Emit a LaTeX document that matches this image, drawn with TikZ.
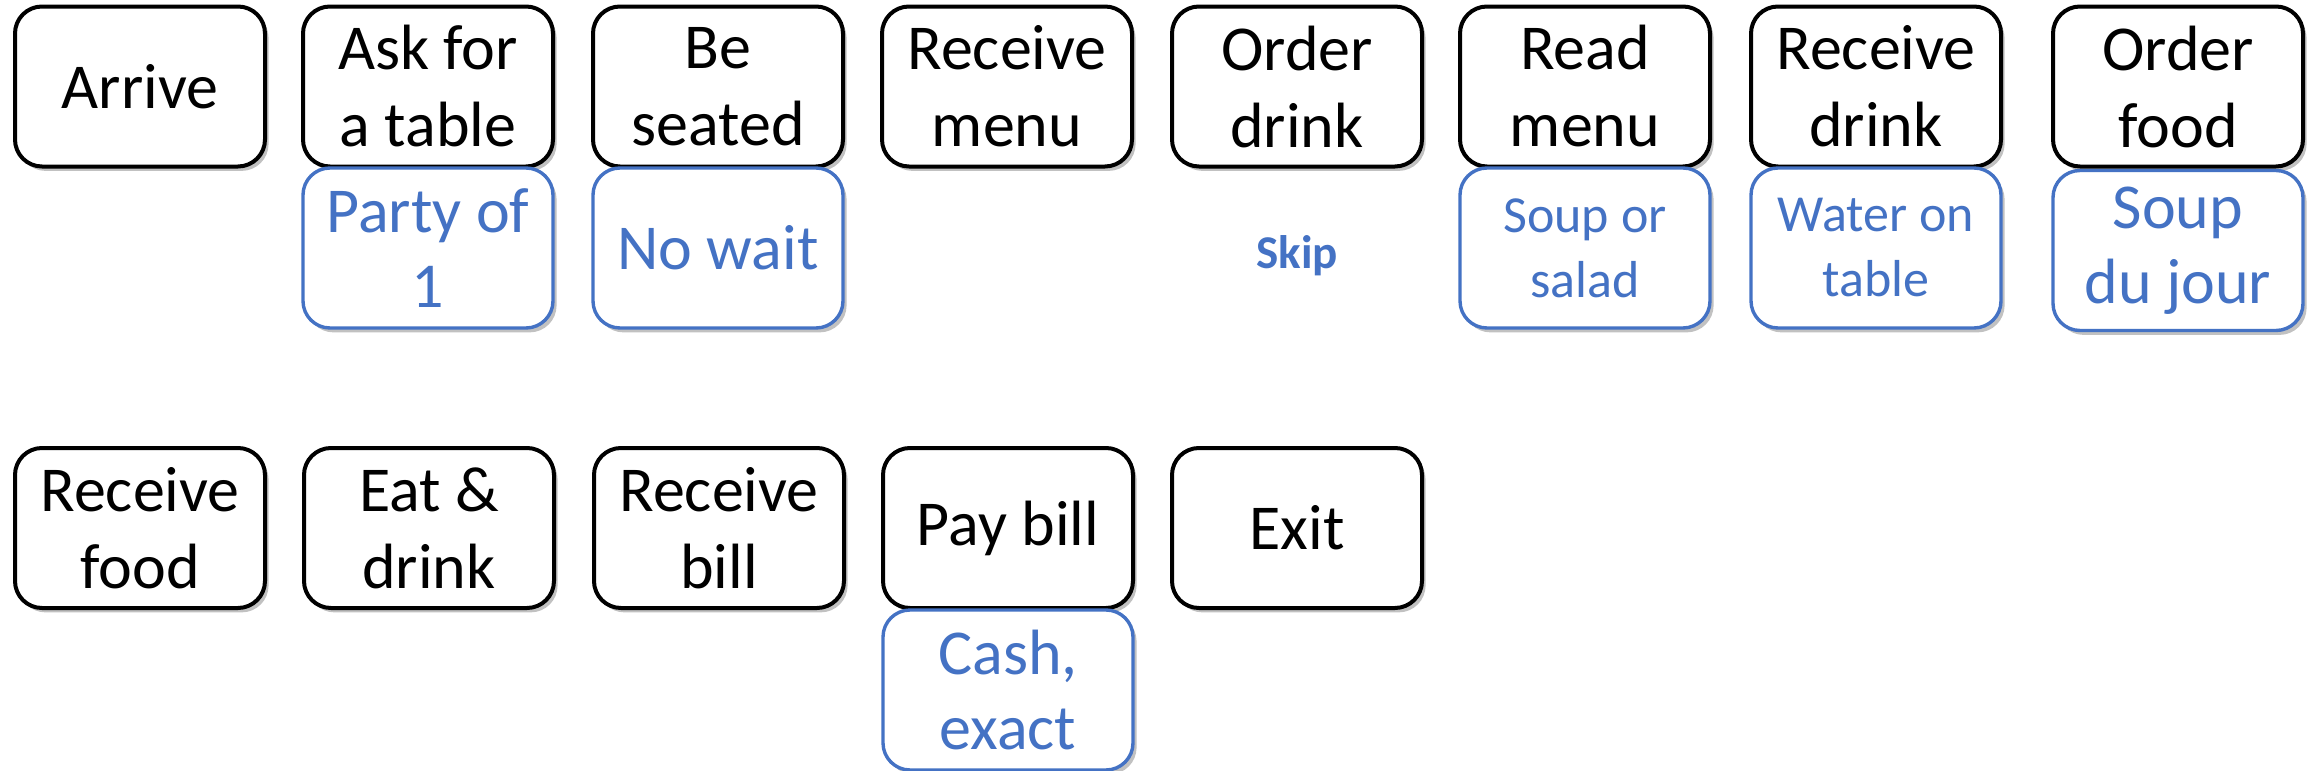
\documentclass[tikz,border=0pt]{standalone}
\usepackage{fontspec}
\setmainfont{Carlito}
\usetikzlibrary{shadows}
\definecolor{accblue}{HTML}{4472C4}
\tikzset{
  base/.style={rounded corners=13.5pt, fill=white, align=center, inner sep=0pt,
    minimum width=125pt,
    drop shadow={shadow xshift=1.8pt, shadow yshift=-2.2pt, opacity=0.35, fill=black!70}},
  blk/.style={base, draw=black, line width=2pt, minimum height=80pt,
    font=\fontsize{32pt}{38.5pt}\selectfont},
  sub/.style={base, draw=accblue, line width=1.7pt, minimum height=80pt, text=accblue,
    font=\fontsize{32pt}{37.5pt}\selectfont},
  subsm/.style={sub, font=\fontsize{26pt}{32.5pt}\selectfont},
}
\begin{document}
\begin{tikzpicture}[x=0.5pt, y=-0.5pt]
\useasboundingbox (0,0) rectangle (2309,771);
% row 1
\node[blk] (arrive) at (140,86.5) {Arrive};
\node[blk] (ask) at (428,86.5) {Ask for\\a table};
\node[blk] (seated) at (718,86.5) {Be\\seated};
\node[blk] (rmenu) at (1007,86.5) {Receive\\menu};
\node[blk] (odrink) at (1297,86.5) {Order\\drink};
\node[blk] (readmenu) at (1585,86.5) {Read\\menu};
\node[blk] (rdrink) at (1876,86.5) {Receive\\drink};
\node[blk] (ofood) at (2178,86.5) {Order\\food};
% row 1 annotations
\node[sub] (party) at (428,248) {Party of\\1};
\node[sub] (nowait) at (718,248) {No wait};
\node[text=accblue, font=\fontsize{23.5pt}{28pt}\selectfont\bfseries] (skip) at (1297,256) {Skip};
\node[subsm] (soup) at (1585,248) {Soup or\\salad};
\node[subsm] (water) at (1876,248) {Water on\\table};
\node[sub] (jour) at (2178,250.5) {Soup\\du jour};
% row 2
\node[blk] (rfood) at (140,528) {Receive\\food};
\node[blk] (eat) at (429,528) {Eat \&\\drink};
\node[blk] (rbill) at (719,528) {Receive\\bill};
\node[blk] (pay) at (1008,528) {Pay bill};
\node[blk] (exit) at (1297,528) {Exit};
\node[sub] (cash) at (1008,690) {Cash,\\exact};
\end{tikzpicture}
\end{document}
